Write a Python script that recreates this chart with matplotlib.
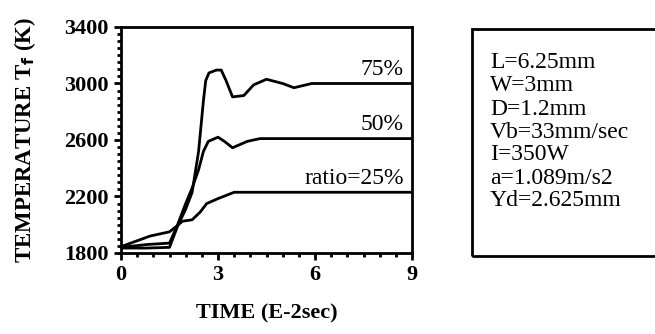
import matplotlib.pyplot as plt
from matplotlib.ticker import MultipleLocator
from matplotlib.patches import Rectangle

plt.rcParams['font.family'] = ['Liberation Serif', 'DejaVu Serif']

# curvas (tempo em E-2 s, temperatura em K)
t75 = [0, 0.8, 1.5, 1.75, 2.0, 2.2, 2.4, 2.55, 2.62, 2.72, 2.95, 3.1, 3.25, 3.45, 3.8, 4.1, 4.5, 5.0, 5.35, 5.9, 7.0, 9]
T75 = [1835, 1835, 1840, 1990, 2110, 2230, 2520, 2880, 3020, 3075, 3095, 3095, 3020, 2905, 2915, 2990, 3030, 3000, 2970, 3000, 3000, 3000]

t50 = [0, 0.8, 1.5, 1.75, 2.0, 2.2, 2.4, 2.55, 2.7, 3.0, 3.2, 3.45, 3.9, 4.3, 9]
T50 = [1840, 1860, 1870, 2000, 2150, 2260, 2390, 2520, 2590, 2620, 2590, 2545, 2590, 2610, 2610]

t25 = [0, 0.9, 1.5, 1.75, 1.9, 2.2, 2.45, 2.65, 3.0, 3.5, 9]
T25 = [1845, 1920, 1950, 1995, 2025, 2035, 2090, 2150, 2185, 2230, 2230]

rotulos = ["75%", "50%", "ratio=25%"]
yticks = [1800, 2200, 2600, 3000, 3400]
xticks = [0, 3, 6, 9]
parametros = ["L=6.25mm", "W=3mm", "D=1.2mm", "Vb=33mm/sec",
              "I=350W", "a=1.089m/s2", "Yd=2.625mm"]

fig = plt.figure(figsize=(6.55, 3.34), dpi=100)
ax = fig.add_axes([121/655, 1-253/334, 291/655, 226/334])

for t, T in [(t75, T75), (t50, T50), (t25, T25)]:
    ax.plot(t, T, color='black', lw=2)

for T, txt in zip([T75[-1], T50[-1], T25[-1]], rotulos):
    ax.text(8.75, T + 25, txt, ha='right', va='bottom', fontsize=17)

ax.set_xlim(0, 9)
ax.set_ylim(1800, 3400)
ax.set_xticks(xticks)
ax.set_yticks(yticks)
ax.xaxis.set_minor_locator(MultipleLocator(0.5))
ax.yaxis.set_minor_locator(MultipleLocator(50))
ax.tick_params(which='both', direction='out', width=2, labelsize=16, pad=4)
ax.tick_params(which='major', length=5)
ax.tick_params(which='minor', length=3)
for lab in ax.get_xticklabels() + ax.get_yticklabels():
    lab.set_fontweight('bold')
for s in ax.spines.values():
    s.set_linewidth(2)

ax.set_xlabel("TIME (E-2sec)", fontsize=16, fontweight='bold', labelpad=13)
ax.set_ylabel(r"TEMPERATURE T$_\mathbf{f}$ (K)", fontsize=16.5, fontweight='bold', labelpad=19)

# caixa de parâmetros à direita
fig.add_artist(Rectangle((472/655, 1-256/334), 0.3, 227/334, transform=fig.transFigure,
                         fill=False, lw=2, edgecolor='black'))
for i, p in enumerate(parametros):
    fig.text(490/655, 1-(63 + 23*i)/334, p, fontsize=17, va='center', ha='left')

plt.savefig("out.png", dpi=100)
plt.close()
